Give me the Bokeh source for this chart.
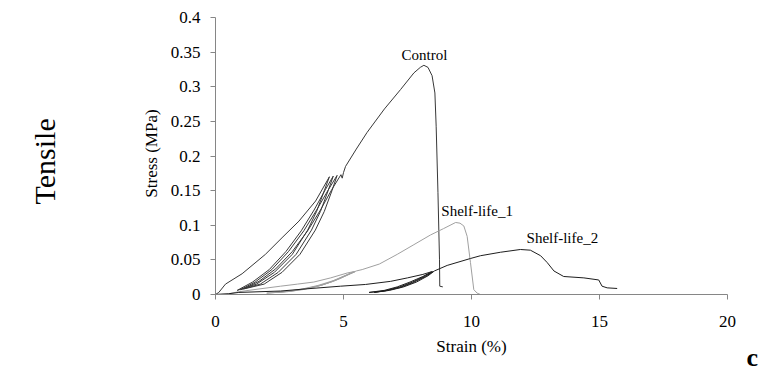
from bokeh.plotting import figure
from bokeh.models import Range1d, FixedTicker, Label, LinearAxis
from bokeh.embed import file_html
from bokeh.resources import INLINE
import math

# ---------------- data ----------------
control_strain = [0, 0.13, 0.39, 1.04, 1.95, 2.60, 3.26, 3.91, 4.45,
                  4.25, 3.95, 3.60, 3.00, 2.30, 1.60, 0.85,
                  1.45, 2.10, 2.75, 3.35, 3.85, 4.30, 4.60,
                  4.40, 4.10, 3.75, 3.15, 2.45, 1.75, 0.98,
                  1.55, 2.20, 2.85, 3.45, 3.95, 4.42, 4.75,
                  4.55, 4.25, 3.90, 3.30, 2.60, 1.90, 1.10,
                  1.70, 2.35, 3.00, 3.60, 4.10, 4.55, 4.90,
                  4.95, 5.00, 5.08, 5.50, 5.92, 6.60, 7.23, 7.75, 8.00, 8.14,
                  8.30, 8.46, 8.57, 8.62, 8.69, 8.75, 8.76, 8.88]
control_stress = [0, 0.003, 0.015, 0.030, 0.058, 0.082, 0.106, 0.135, 0.170,
                  0.150, 0.120, 0.093, 0.058, 0.032, 0.015, 0.006,
                  0.018, 0.036, 0.062, 0.092, 0.122, 0.152, 0.171,
                  0.150, 0.120, 0.093, 0.058, 0.032, 0.015, 0.007,
                  0.018, 0.036, 0.062, 0.092, 0.122, 0.152, 0.172,
                  0.150, 0.120, 0.093, 0.058, 0.032, 0.015, 0.008,
                  0.019, 0.037, 0.062, 0.092, 0.122, 0.152, 0.173,
                  0.168, 0.176, 0.185, 0.210, 0.234, 0.268, 0.296, 0.320, 0.328, 0.331,
                  0.328, 0.316, 0.291, 0.243, 0.147, 0.051, 0.012, 0.011]

shelf1_strain = [0, 0.50, 0.91, 1.70, 2.54, 3.20, 3.84, 4.50, 5.14, 5.40,
                 5.00, 4.50, 4.00, 3.40, 2.80, 2.00,
                 2.70, 3.40, 4.00, 4.60, 5.10, 5.45,
                 5.10, 4.60, 4.10, 3.50, 2.90, 2.30,
                 3.00, 3.60, 4.20, 4.80, 5.20, 5.50,
                 5.73, 6.40, 7.10, 7.75, 8.40, 8.90, 9.38, 9.55, 9.70, 9.83,
                 9.96, 10.09, 10.22, 10.35]
shelf1_stress = [0, 0.001, 0.004, 0.008, 0.012, 0.015, 0.018, 0.024, 0.031, 0.033,
                 0.026, 0.018, 0.012, 0.007, 0.004, 0.002,
                 0.004, 0.008, 0.013, 0.020, 0.028, 0.033,
                 0.027, 0.019, 0.013, 0.008, 0.005, 0.003,
                 0.005, 0.009, 0.014, 0.022, 0.029, 0.034,
                 0.036, 0.044, 0.058, 0.072, 0.086, 0.095, 0.104, 0.103, 0.099, 0.084,
                 0.046, 0.007, 0.002, 0.0]

shelf2_strain = [0, 0.50, 0.91, 2.54, 3.50, 4.88, 5.86, 6.84, 7.50, 8.10, 8.45,
                 8.10, 7.60, 7.10, 6.60, 6.00,
                 6.60, 7.20, 7.70, 8.20, 8.50,
                 8.15, 7.70, 7.20, 6.70, 6.20,
                 6.80, 7.35, 7.85, 8.30, 8.55,
                 9.05, 9.96, 10.35, 11.13, 11.91, 12.30, 12.70, 12.96, 13.22,
                 13.60, 14.39, 14.97, 15.10, 15.30, 15.69]
shelf2_stress = [0, 0.001, 0.003, 0.005, 0.008, 0.012, 0.0145, 0.019, 0.024, 0.029, 0.033,
                 0.026, 0.018, 0.011, 0.006, 0.003,
                 0.005, 0.010, 0.017, 0.026, 0.033,
                 0.026, 0.018, 0.011, 0.006, 0.003,
                 0.006, 0.011, 0.018, 0.027, 0.034,
                 0.042, 0.052, 0.056, 0.061, 0.065, 0.064, 0.056, 0.046, 0.034,
                 0.026, 0.024, 0.021, 0.012, 0.0096, 0.0087]

x_ticks = [0, 5, 10, 15, 20]
y_ticks = [0, 0.05, 0.1, 0.15, 0.2, 0.25, 0.3, 0.35, 0.4]
y_tick_labels = ["0", "0.05", "0.1", "0.15", "0.2", "0.25", "0.3", "0.35", "0.4"]

FONT = "Liberation Serif"
AXIS_GRAY = "#868686"

# Frame covers the whole canvas; axes sit at strain = 0 and stress = 0.
p = figure(width=764, height=374, min_border=0,
           x_range=Range1d(-8.3984, 21.4453), y_range=Range1d(-0.11552, 0.42455),
           x_axis_type=None, y_axis_type=None,
           output_backend="svg", toolbar_location=None)

p.line(control_strain, control_stress, line_color="#383838", line_width=1)
p.line(shelf1_strain, shelf1_stress, line_color="#a0a0a0", line_width=1)
p.line(shelf2_strain, shelf2_stress, line_color="#1e1e1e", line_width=1)

p.outline_line_color = None
p.grid.visible = False
p.background_fill_color = "white"
p.border_fill_color = "white"

xaxis = LinearAxis(fixed_location=0, bounds=(0, 20), ticker=FixedTicker(ticks=x_ticks))
yaxis = LinearAxis(fixed_location=0, bounds=(0, 0.4), ticker=FixedTicker(ticks=y_ticks))
yaxis.major_label_overrides = {t: s for t, s in zip(y_ticks, y_tick_labels)}
for ax in (xaxis, yaxis):
    ax.axis_line_color = AXIS_GRAY
    ax.major_tick_line_color = AXIS_GRAY
    ax.major_tick_out = 5
    ax.major_tick_in = 0
    ax.minor_tick_line_color = None
    ax.major_label_text_font = FONT
    ax.major_label_text_font_size = "17px"
    ax.major_label_text_color = "black"
xaxis.major_label_standoff = 16
yaxis.major_label_standoff = 10
p.add_layout(xaxis, "below")
p.add_layout(yaxis, "left")

def lab(x, y, text, size, align="left", baseline="alphabetic", angle=0, style="normal"):
    p.add_layout(Label(x=x, y=y, text=text, text_font=FONT, text_font_size=size,
                       text_align=align, text_baseline=baseline, angle=angle,
                       text_font_style=style, text_color="black"))

lab(8.16, 0.3461, "Control", "15px", align="center")
lab(8.82, 0.1199, "Shelf-life_1", "15px")
lab(12.15, 0.0813, "Shelf-life_2", "15px")
lab(10.0, -0.0744, "Strain (%)", "17px", align="center")
lab(-2.5195, 0.2036, "Stress (MPa)", "17px", align="center", angle=math.pi / 2)
lab(-6.6797, 0.1923, "Tensile", "30px", align="center", angle=math.pi / 2)
lab(20.74, -0.091, "c", "26px", style="bold")

open("out.html", "w").write(file_html(p, INLINE))
